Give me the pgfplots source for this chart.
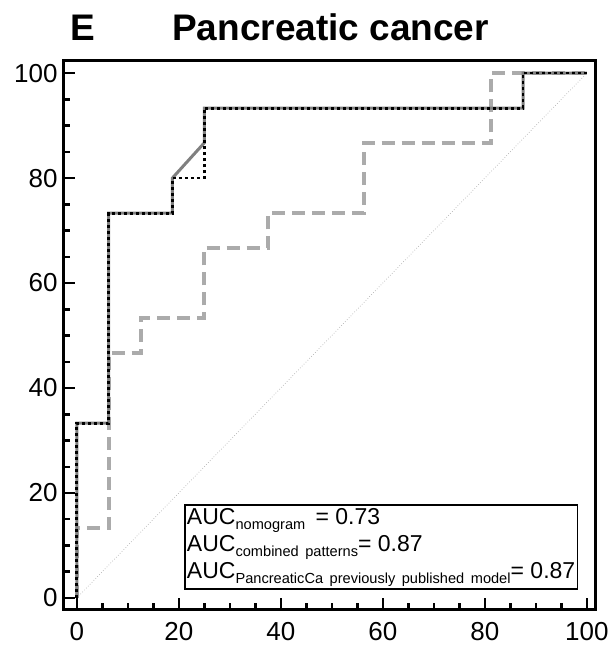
\documentclass[border=0pt]{standalone}
\usepackage{pgfplots}
\pgfplotsset{compat=1.18}
\usepackage{fontspec}
\setmainfont{Liberation Sans}
\newcommand\sub[1]{\raisebox{-5bp}{\fontsize{14.6bp}{16bp}\selectfont #1}}
\begin{document}
\begin{tikzpicture}
\path[use as bounding box] (-64bp,-39bp) rectangle (546bp,609bp);
\begin{axis}[
  at={(0,0)}, anchor=south west,
  scale only axis, width=531bp, height=548bp,
  xmin=-2.5, xmax=101.6, ymin=-2.1, ymax=102.3,
  xtick={0,20,...,100}, ytick={0,20,...,100},
  minor tick num=3,
  tick pos=left, tick align=inside,
  major tick length=11bp, minor tick length=6bp,
  every tick/.style={black, line width=2.5bp},
  axis line style={line width=3bp, black},
  tick label style={font=\fontsize{26bp}{30bp}\selectfont},
  /pgf/number format/assume math mode=true,
  xticklabel style={yshift=-10bp},
  yticklabel style={xshift=-3bp},
  clip=false,
]
\addplot[gray!60, line width=0.7bp, dotted] coordinates {(0,0) (100,100)};
\addplot[black!33, line width=4bp, dash pattern=on 13bp off 7bp] coordinates {
 (0,0) (0,13.3) (6.25,13.3) (6.25,46.7) (12.5,46.7) (12.5,53.3) (25,53.3) (25,66.7)
 (37.5,66.7) (37.5,73.3) (56.25,73.3) (56.25,86.7) (81.25,86.7) (81.25,100) (100,100)};
\addplot[black!50, line width=3bp] coordinates {
 (0,0) (0,33.3) (6.25,33.3) (6.25,73.3) (18.75,73.3) (18.75,80) (25,86.7) (25,93.3)
 (87.5,93.3) (87.5,100) (100,100)};
\addplot[black, line width=2.8bp, dash pattern=on 3bp off 3bp] coordinates {
 (0,0) (0,33.3) (6.25,33.3) (6.25,73.3) (18.75,73.3) (18.75,80) (25,80) (25,93.3)
 (87.5,93.3) (87.5,100) (100,100)};
\end{axis}
\node[anchor=base west, inner sep=0, font=\fontsize{37bp}{40bp}\selectfont\bfseries] at (6bp,568bp) {E};
\node[anchor=base west, inner sep=0, font=\fontsize{37bp}{40bp}\selectfont\bfseries] at (108bp,568bp) {Pancreatic cancer};
\node[draw=black, line width=1.5bp, anchor=south east, align=left, inner xsep=2bp, inner ysep=3bp,
  font=\fontsize{23bp}{27bp}\selectfont] at (514bp,19bp)
 {AUC\sub{nomogram} \,= 0.73\\
  AUC\sub{combined\, patterns}= 0.87\\
  AUC\sub{PancreaticCa\, previously\, published\, model}= 0.87};
\end{tikzpicture}
\end{document}
